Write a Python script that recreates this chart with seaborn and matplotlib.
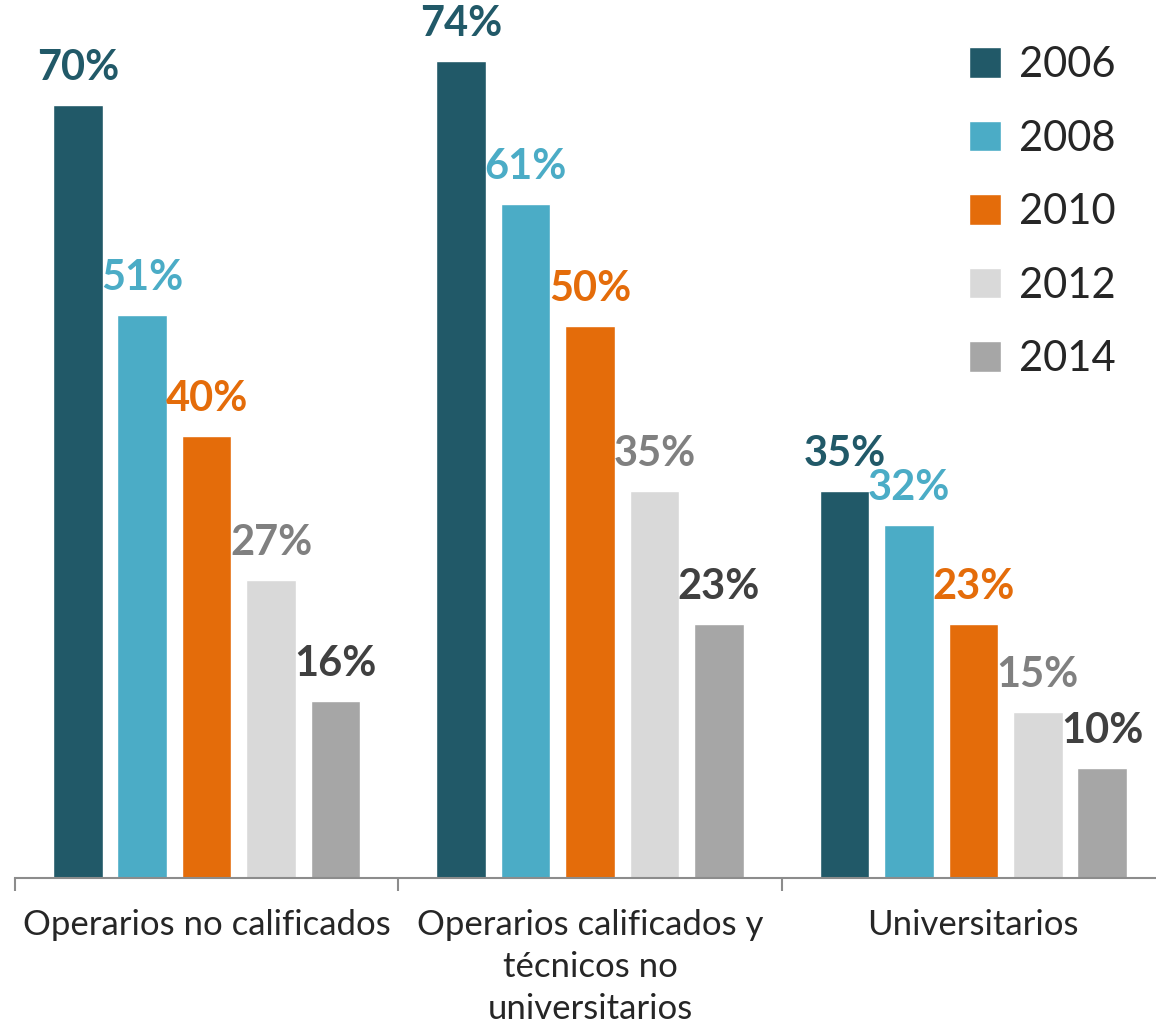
import pandas as pd
import matplotlib.pyplot as plt
import seaborn as sns

# data
categories = ["Operarios no calificados",
              "Operarios calificados y\ntécnicos no\nuniversitarios",
              "Universitarios"]
years = ["2006", "2008", "2010", "2012", "2014"]
values = {
    "2006": [70, 74, 35],
    "2008": [51, 61, 32],
    "2010": [40, 50, 23],
    "2012": [27, 35, 15],
    "2014": [16, 23, 10],
}
bar_colors = ["#215968", "#4BACC6", "#E46C0A", "#D9D9D9", "#A6A6A6"]
label_colors = ["#215968", "#4BACC6", "#E46C0A", "#808080", "#404040"]

rows = []
for y in years:
    for c, v in zip(categories, values[y]):
        rows.append({"Categoria": c, "Año": y, "Valor": v})
df = pd.DataFrame(rows)

sns.set_style("white")
plt.rcParams["font.family"] = ["Lato", "DejaVu Sans"]

fig = plt.figure(figsize=(11.56, 10.28), dpi=100)
ax = fig.add_axes([15 / 1156, 150 / 1028, 1150 / 1156, 878 / 1028])

sns.barplot(data=df, x="Categoria", y="Valor", hue="Año", order=categories,
            hue_order=years, palette=bar_colors, width=0.84, gap=0.23,
            saturation=1, ax=ax, legend=True)

# value labels
for i, cont in enumerate(ax.containers):
    for bar in cont:
        h = bar.get_height()
        ax.annotate(f"{h:.0f}%", (bar.get_x() + bar.get_width() / 2, h),
                    xytext=(0, 13), textcoords="offset points",
                    ha="center", va="bottom", fontsize=30, fontweight="bold",
                    color=label_colors[i])

ax.set_ylim(0, 79.5)
ax.set_xlim(-0.5, 2.5)
ax.set_xlabel("")
ax.set_ylabel("")
ax.set_yticks([])
for s in ["top", "right", "left"]:
    ax.spines[s].set_visible(False)
ax.spines["bottom"].set_color("#8C8C8C")
ax.spines["bottom"].set_linewidth(1.5)

ax.set_xticks([0, 1, 2])
ax.set_xticklabels(categories, fontsize=25, linespacing=1.4)
ax.set_xticks([-0.5, 0.5, 1.5, 2.5], minor=True)
ax.tick_params(axis="x", which="major", length=0, pad=22)
ax.tick_params(axis="x", which="minor", length=9, width=1.5, color="#8C8C8C",
               direction="out", bottom=True)

leg = ax.legend(loc="upper right", bbox_to_anchor=(0.99, 0.99), frameon=False,
                fontsize=30, handlelength=0.75, handleheight=0.75,
                handletextpad=0.45, labelspacing=0.85)

fig.savefig("out.png", dpi=100)
